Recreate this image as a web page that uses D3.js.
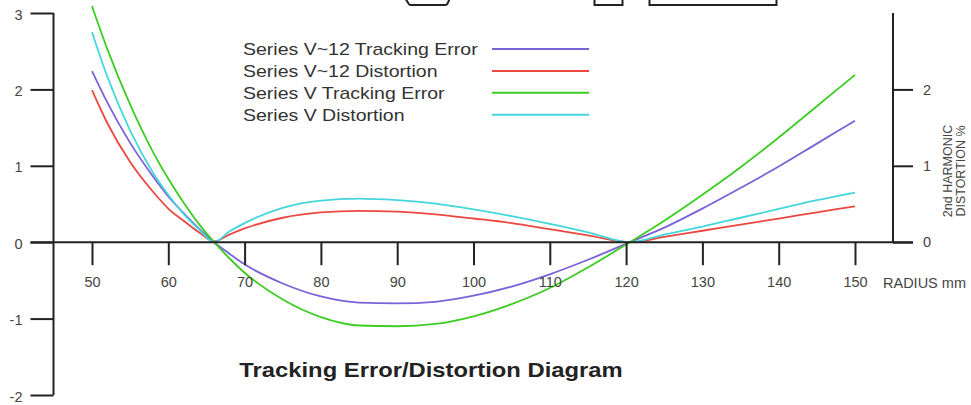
<!DOCTYPE html>
<html>
<head>
<meta charset="utf-8">
<script src="https://cdn.jsdelivr.net/npm/d3@7"></script>
<style>
  body { margin: 0; background: #fff; }
  svg { display: block; font-family: "Liberation Sans", Arial, sans-serif; }
  .tick text { fill: #444; font-size: 14.5px; font-family: "Liberation Sans", Arial, sans-serif; }
  .tick line { stroke: #222; stroke-width: 2; }
</style>
</head>
<body>
<div id="chart"></div>
<script>
// radius in mm, tracking error in degrees (left axis), distortion in % (right axis)
var radius = [50, 52, 55, 58, 60, 62, 64, 66, 68, 70, 75, 80, 85, 90, 95, 100, 105, 110, 115, 120.5, 125, 130, 135, 140, 145, 150];
var v12Tracking = [2.24, 1.83, 1.30, 0.86, 0.60, 0.38, 0.18, 0, -0.15, -0.29, -0.54, -0.71, -0.79, -0.80, -0.78, -0.70, -0.58, -0.42, -0.23, 0, 0.19, 0.44, 0.71, 0.99, 1.29, 1.59];
var v12Distortion = [1.99, 1.56, 1.05, 0.66, 0.44, 0.28, 0.13, 0.01, 0.10, 0.18, 0.32, 0.39, 0.41, 0.40, 0.365, 0.31, 0.25, 0.17, 0.09, 0, 0.07, 0.15, 0.23, 0.31, 0.39, 0.47];
var vTracking = [3.09, 2.53, 1.80, 1.18, 0.83, 0.52, 0.24, 0, -0.21, -0.40, -0.75, -0.98, -1.09, -1.10, -1.07, -0.97, -0.81, -0.60, -0.33, 0, 0.28, 0.62, 0.98, 1.37, 1.78, 2.19];
var vDistortion = [2.75, 2.17, 1.46, 0.91, 0.62, 0.37, 0.17, 0, 0.14, 0.25, 0.45, 0.545, 0.57, 0.55, 0.505, 0.43, 0.34, 0.24, 0.13, 0, 0.10, 0.205, 0.32, 0.435, 0.55, 0.65];

var seriesNames = ["Series V~12 Tracking Error", "Series V~12 Distortion", "Series V Tracking Error", "Series V Distortion"];
var seriesValues = [v12Tracking, v12Distortion, vTracking, vDistortion];
var seriesColors = ["#7a62d8", "#ec4740", "#3ccc22", "#45d6dc"];

var xTicks = [50, 60, 70, 80, 90, 100, 110, 120, 130, 140, 150];
var leftTicks = [-2, -1, 0, 1, 2, 3];
var rightTicks = [0, 1, 2];

(function() {
  var width = 971, height = 405;
  var stretch = 1.22; // the source text is drawn a bit wide

  var svg = d3.select("#chart").append("svg")
    .attr("width", width)
    .attr("height", height);

  svg.append("rect").attr("width", width).attr("height", height).attr("fill", "#fff");

  var x = d3.scaleLinear().domain([50, 150]).range([92, 855]);
  var y = d3.scaleLinear().domain([-2, 3]).range([395, 13]);
  var color = d3.scaleOrdinal(seriesNames, seriesColors);
  // plain hyphen for negatives, as in the source
  var fmt = function(d) { return String(d); };

  var leftX = 53.5, rightX = 893;

  // cut off outline of the drawing above the chart
  var outline = svg.append("g").attr("fill", "none").attr("stroke", "#222").attr("stroke-width", 2);
  outline.append("path").attr("d", "M405,-2 L408.5,3.5 Q409,5 411,5 L445,5 Q447,5 447.5,3.5 L450,-2");
  outline.append("rect").attr("x", 594.5).attr("y", -4).attr("width", 28).attr("height", 9);
  outline.append("rect").attr("x", 649.5).attr("y", -4).attr("width", 127).attr("height", 9);

  // curves
  var line = d3.line()
    .x(function(d) { return x(d[0]); })
    .y(function(d) { return y(d[1]); })
    .curve(d3.curveMonotoneX);

  svg.append("g").selectAll("path")
    .data(seriesNames)
    .enter().append("path")
    .attr("fill", "none")
    .attr("stroke", function(d) { return color(d); })
    .attr("stroke-width", 1.8)
    .attr("d", function(d, i) {
      return line(radius.map(function(r, j) { return [r, seriesValues[i][j]]; }));
    });

  // axes
  var xAxis = svg.append("g")
    .attr("transform", "translate(0," + y(0) + ")")
    .call(d3.axisBottom(x).tickValues(xTicks).tickFormat(fmt).tickSizeInner(23).tickSizeOuter(0).tickPadding(12));
  xAxis.select(".domain").remove();

  var leftAxis = svg.append("g")
    .attr("transform", "translate(" + leftX + ",0)")
    .call(d3.axisLeft(y).tickValues(leftTicks).tickFormat(fmt).tickSizeInner(23).tickSizeOuter(0).tickPadding(8));
  leftAxis.select(".domain").remove();
  leftAxis.selectAll(".tick text").attr("dy", "0.42em");

  var rightAxis = svg.append("g")
    .attr("transform", "translate(" + rightX + ",0)")
    .call(d3.axisRight(y).tickValues(rightTicks).tickFormat(fmt).tickSizeInner(20).tickSizeOuter(0).tickPadding(10));
  rightAxis.select(".domain").remove();

  svg.append("line")
    .attr("x1", leftX - 23).attr("x2", rightX + 20)
    .attr("y1", y(0)).attr("y2", y(0))
    .attr("stroke", "#222").attr("stroke-width", 2);
  svg.append("line")
    .attr("x1", leftX).attr("x2", leftX)
    .attr("y1", y(3)).attr("y2", y(-2))
    .attr("stroke", "#222").attr("stroke-width", 2);
  svg.append("line")
    .attr("x1", rightX).attr("x2", rightX)
    .attr("y1", y(3)).attr("y2", y(0))
    .attr("stroke", "#222").attr("stroke-width", 2);

  svg.append("text")
    .attr("x", 883).attr("y", 288)
    .attr("fill", "#444").attr("font-size", 14.5)
    .text("RADIUS mm");

  var rightTitle = svg.append("text")
    .attr("transform", "translate(948,171) rotate(-90)")
    .attr("text-anchor", "middle")
    .attr("fill", "#444").attr("font-size", 12.5);
  rightTitle.append("tspan").attr("x", 0).attr("dy", "0.35em").text("2nd HARMONIC");
  rightTitle.append("tspan").attr("x", 0).attr("dy", "1.0em").text("DISTORTION %");

  // legend
  var legend = svg.append("g").selectAll("g")
    .data(seriesNames)
    .enter().append("g")
    .attr("transform", function(d, i) { return "translate(243," + (55 + i * 21.9) + ")"; });

  legend.append("text")
    .attr("transform", "scale(" + stretch + ",1)")
    .attr("fill", "#333")
    .attr("font-size", 16)
    .text(function(d) { return d; });

  legend.append("line")
    .attr("x1", 249).attr("x2", 346)
    .attr("y1", -6).attr("y2", -6)
    .attr("stroke", function(d) { return color(d); })
    .attr("stroke-width", 2);

  // title
  svg.append("text")
    .attr("transform", "translate(431,377) scale(" + stretch + ",1)")
    .attr("text-anchor", "middle")
    .attr("font-weight", "bold")
    .attr("font-size", 19.5)
    .attr("fill", "#222")
    .text("Tracking Error/Distortion Diagram");
})();
</script>
</body>
</html>
